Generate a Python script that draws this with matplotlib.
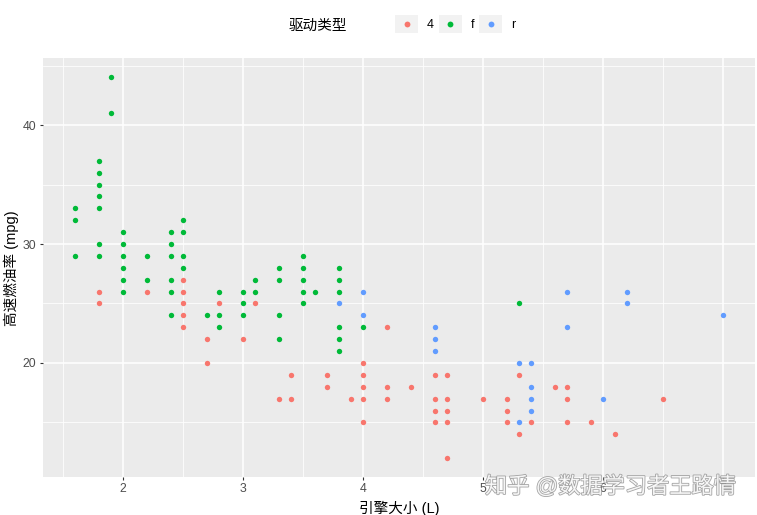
import matplotlib
matplotlib.use("Agg")
import matplotlib.pyplot as plt
from matplotlib.legend_handler import HandlerBase
from matplotlib.patches import Rectangle
from matplotlib.lines import Line2D
import matplotlib.patheffects as pe

plt.rcParams['font.family'] = ['Liberation Sans', 'Noto Sans CJK SC', 'DejaVu Sans']

# ---- data (displ, hwy), grouped by drive type ----
displ_4 = [1.8, 1.8, 2.2, 2.5, 2.5, 2.5, 2.5, 2.5, 2.7, 2.7, 2.8, 3.0, 3.1, 3.3, 3.4, 3.4,
           3.7, 3.7, 3.9, 4.0, 4.0, 4.0, 4.0, 4.0, 4.2, 4.2, 4.2, 4.4, 4.6, 4.6, 4.6, 4.6,
           4.7, 4.7, 4.7, 4.7, 4.7, 5.0, 5.2, 5.2, 5.2, 5.3, 5.3, 5.4, 5.6, 5.7, 5.7, 5.7,
           5.9, 6.1, 6.5]
hwy_4 = [26, 25, 26, 27, 26, 25, 24, 23, 22, 20, 25, 22, 25, 17, 19, 17,
         19, 18, 17, 20, 19, 18, 17, 15, 23, 18, 17, 18, 19, 17, 16, 15,
         19, 17, 16, 15, 12, 17, 17, 16, 15, 19, 14, 15, 18, 18, 17, 15,
         15, 14, 17]

displ_f = [1.6, 1.6, 1.6, 1.8, 1.8, 1.8, 1.8, 1.8, 1.8, 1.8, 1.9, 1.9, 2.0, 2.0, 2.0, 2.0,
           2.0, 2.0, 2.2, 2.2, 2.4, 2.4, 2.4, 2.4, 2.4, 2.4, 2.5, 2.5, 2.5, 2.5, 2.7, 2.8,
           2.8, 2.8, 3.0, 3.0, 3.0, 3.1, 3.1, 3.3, 3.3, 3.3, 3.3, 3.5, 3.5, 3.5, 3.5, 3.5,
           3.6, 3.8, 3.8, 3.8, 3.8, 3.8, 3.8, 4.0, 5.3]
hwy_f = [33, 32, 29, 37, 36, 35, 34, 33, 30, 29, 44, 41, 31, 30, 29, 28,
         27, 26, 29, 27, 31, 30, 29, 27, 26, 24, 32, 31, 29, 28, 24, 26,
         24, 23, 26, 25, 24, 27, 26, 28, 27, 24, 22, 29, 28, 27, 26, 25,
         26, 28, 27, 26, 23, 22, 21, 23, 25]

displ_r = [3.8, 4.0, 4.0, 4.6, 4.6, 4.6, 5.3, 5.3, 5.4, 5.4, 5.4, 5.4, 5.7, 5.7, 6.0, 6.2,
           6.2, 7.0]
hwy_r = [25, 26, 24, 23, 22, 21, 20, 15, 20, 18, 17, 16, 26, 23, 17, 26,
         25, 24]

drv_labels = ['4', 'f', 'r']
drv_colors = ['#F8766D', '#00BA38', '#619CFF']
x_ticks = [2, 3, 4, 5, 6, 7]
y_ticks = [20, 30, 40]

fig = plt.figure(figsize=(7.57, 5.15), dpi=100)
ax = fig.add_axes([42.6 / 757, 1 - 477.2 / 515, (755.4 - 42.6) / 757, (477.2 - 58.4) / 515])
ax.set_facecolor('#EBEBEB')
for s in ax.spines.values():
    s.set_visible(False)

groups = [(displ_4, hwy_4), (displ_f, hwy_f), (displ_r, hwy_r)]
for (xs, ys), lab, col in zip(groups, drv_labels, drv_colors):
    ax.scatter(xs, ys, s=15, color=col, linewidths=0, label=lab, zorder=3)

ax.set_xlim(1.33, 7.27)
ax.set_ylim(10.4, 45.6)
ax.set_xticks(x_ticks)
ax.set_yticks(y_ticks)
ax.set_xticks([1.5, 2.5, 3.5, 4.5, 5.5, 6.5], minor=True)
ax.set_yticks([15, 25, 35, 45], minor=True)
ax.grid(which='major', color='white', linewidth=1.1, zorder=0)
ax.grid(which='minor', color='white', linewidth=0.55, zorder=0)
ax.set_axisbelow(True)
ax.tick_params(which='major', length=2.5, width=0.8, color='#333333', labelcolor='#4D4D4D',
               labelsize=8.8, pad=2)
ax.tick_params(which='minor', length=0)

ax.set_xlabel('引擎大小 (L)', fontsize=10.5, color='black', labelpad=4)
ax.set_ylabel('高速燃油率 (mpg)', fontsize=10.5, color='black', labelpad=3)


class KeyHandler(HandlerBase):
    def create_artists(self, legend, orig_handle, xdescent, ydescent, width, height, fontsize, trans):
        rect = Rectangle((-xdescent, -ydescent), width, height, facecolor='#F2F2F2',
                         edgecolor='none', transform=trans)
        m = Line2D([-xdescent + width / 2], [-ydescent + height / 2], marker='o', linestyle='none',
                   markersize=4.2, markerfacecolor=orig_handle.get_facecolor()[0],
                   markeredgewidth=0, transform=trans)
        return [rect, m]


handles, labels = ax.get_legend_handles_labels()
leg = fig.legend(handles, labels, loc='center left', bbox_to_anchor=(395 / 757, 1 - 24 / 515),
                 ncol=3, frameon=False, fontsize=9, handlelength=1.85, handleheight=1.85,
                 handletextpad=0.7, columnspacing=0.4, borderpad=0, borderaxespad=0,
                 handler_map={h: KeyHandler() for h in handles})

fig.text(289 / 757, 1 - 26 / 515, '驱动类型', fontsize=10.5, va='center', ha='left')

wm = fig.text(485 / 757, 1 - 487 / 515, '知乎 @数据学习者王路情', fontsize=16, va='center', ha='left',
              color='white', alpha=0.9, zorder=10)
wm.set_path_effects([pe.withStroke(linewidth=1.2, foreground='#9A9A9A')])

fig.savefig('out.png', dpi=100)
